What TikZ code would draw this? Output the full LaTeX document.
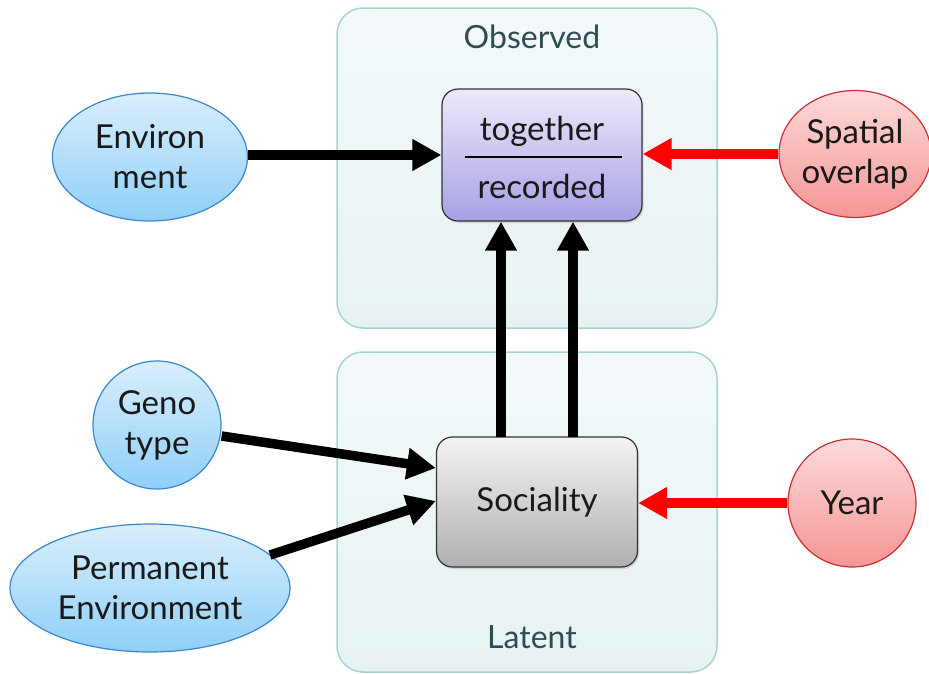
\documentclass[tikz,border=0pt]{standalone}
\usepackage{fontspec}
\setmainfont{Lato}
\usetikzlibrary{arrows.meta,shapes.geometric,shadows}
\definecolor{groupfill}{HTML}{F3F9FA}
\definecolor{groupfillb}{HTML}{E7F2F3}
\definecolor{groupline}{HTML}{A6D2D6}
\definecolor{grouptext}{HTML}{2E4D4F}
\definecolor{blueA}{HTML}{D9EEFC}
\definecolor{blueB}{HTML}{8FCFF8}
\definecolor{blueLine}{HTML}{3B86CC}
\definecolor{redA}{HTML}{FDDADA}
\definecolor{redB}{HTML}{F59595}
\definecolor{redLine}{HTML}{CC2F35}
\definecolor{violetA}{HTML}{ECEAFA}
\definecolor{violetB}{HTML}{A7A0E4}
\definecolor{greyA}{HTML}{F4F4F4}
\definecolor{greyB}{HTML}{AFAFAF}
\definecolor{arrowred}{HTML}{FF0000}
\tikzset{
  group/.style={draw=groupline, line width=1.5pt, rounded corners=26pt,
    top color=groupfill, bottom color=groupfillb},
  grouplabel/.style={text=grouptext, font=\fontsize{32}{36}\selectfont},
  var/.style={draw=black!80, line width=1.2pt, rounded corners=16pt,
    drop shadow={opacity=0.25, shadow xshift=1.5pt, shadow yshift=-2pt}},
  label/.style={font=\fontsize{33}{40}\selectfont, align=center, text=black!90},
  bluenode/.style={ellipse, draw=blueLine, line width=1.2pt, top color=blueA,
    bottom color=blueB, inner sep=0pt, label},
  rednode/.style={ellipse, draw=redLine, line width=1.2pt, top color=redA,
    bottom color=redB, inner sep=0pt, label},
  link/.style={line width=9.5pt, -{Triangle[length=29pt,width=30pt]}},
  blacklink/.style={link, draw=black},
  redlink/.style={link, draw=arrowred}
}
\begin{document}
\begin{tikzpicture}[x=1pt,y=-1pt]
\useasboundingbox (0,0) rectangle (929,673);

% the two groups
\draw[group] (337,8) rectangle (717,328);
\draw[group] (337,352) rectangle (717,672);
\node[grouplabel] (obslabel) at (532,37) {Observed};
\node[grouplabel] (latlabel) at (532,637) {Latent};

% observed ratio
\node[var, minimum width=200pt, minimum height=132pt, top color=violetA,
      bottom color=violetB] (ratio) at (542,155) {};
\node[label] (num) at (542,131) {together};
\node[label] (den) at (542,186) {recorded};
\draw[line width=2.2pt] (465,157) -- (622,157);

% latent sociality
\node[var, minimum width=201pt, minimum height=130pt, top color=greyA,
      bottom color=greyB, label] (soc) at (537,502) {Sociality};

% predictors
\node[bluenode, minimum width=195pt, minimum height=128pt] (env) at (150,157) {Environ\\ment};
\node[rednode, minimum width=152pt, minimum height=127pt] (spat) at (855,154) {Spatial\\overlap};
\node[bluenode, circle, minimum size=128pt] (geno) at (157,425) {Geno\\type};
\node[bluenode, minimum width=280pt, minimum height=128pt] (perm) at (150,588) {Permanent\\Environment};
\node[rednode, circle, minimum size=128pt] (year) at (852,503) {Year};

% connectors
\coordinate (upL) at (501,437);
\coordinate (upR) at (573,437);
\draw[blacklink] (env.east |- 0,155) -- (ratio.west |- 0,155);
\draw[redlink] (spat.west) -- (ratio.east |- spat.west);
\draw[redlink] (year.west) -- (soc.east |- year.west);
\draw[blacklink] (upL) -- (upL |- ratio.south);
\draw[blacklink] (upR) -- (upR |- ratio.south);
\draw[blacklink] (geno.east |- 0,436) -- (soc.west |- 0,468);
\draw[blacklink] (270,555) -- (soc.west |- 0,501);
\end{tikzpicture}
\end{document}
